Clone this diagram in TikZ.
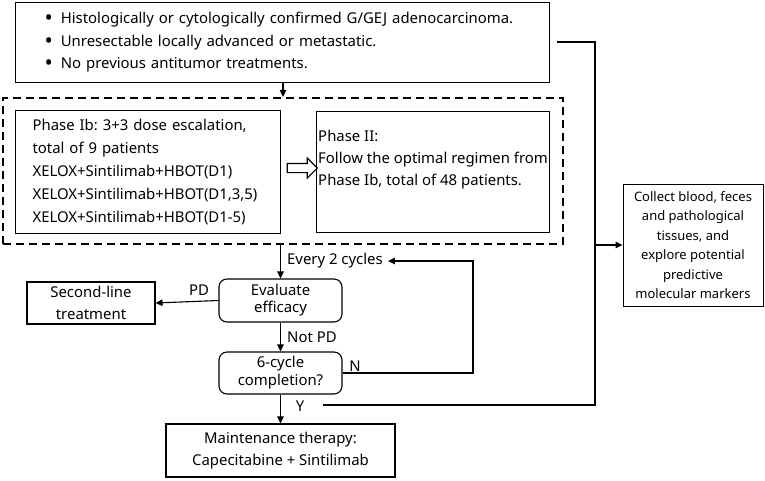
\documentclass[tikz,border=0pt]{standalone}
\usepackage{fontspec}
\setmainfont{Noto Sans}
\usetikzlibrary{arrows.meta,shapes.arrows,positioning}
\frenchspacing

\newcommand{\critem}[1]{\raisebox{-1.6pt}{\fontsize{22}{22}\selectfont\textbullet}\hspace{8pt}#1}

\tikzset{
  box/.style={draw, line width=1.1pt, align=center, inner sep=0pt,
    font=\fontsize{14.9}{22}\selectfont},
  roundbox/.style={box, rounded corners=8pt},
  frame/.style={draw, line width=2.2pt, dash pattern=on 8pt off 5pt},
  arr/.style={line width=1.1pt, -{Triangle[length=7pt,width=6.5pt]}},
  link/.style={line width=1.1pt},
  lbl/.style={inner sep=0pt, font=\fontsize{14.9}{17}\selectfont},
}

\begin{document}
\begin{tikzpicture}[x=1pt,y=-1pt]
  \useasboundingbox (0,0) rectangle (765,480);

  \node[box, anchor=north west, minimum width=534pt, minimum height=80pt,
    text width=476pt, align=left, inner xsep=29pt,
    font=\fontsize{14.9}{22.5}\selectfont] (crit) at (15,2)
    {\critem{Histologically or cytologically confirmed G/GEJ adenocarcinoma.}\\
     \critem{Unresectable locally advanced or metastatic.}\\
     \critem{No previous antitumor treatments.}};

  \node[frame, minimum width=560pt, minimum height=146pt] (trial) at (283,171) {};
  \node[box, anchor=north west, minimum width=265pt, minimum height=123pt,
    text width=231pt, inner xsep=17pt, align=left,
    font=\fontsize{14.9}{23}\selectfont] (phaseIb) at (15,110)
    {Phase Ib: 3+3 dose escalation,\\
     total of 9 patients\\
     XELOX+Sintilimab+HBOT(D1)\\
     XELOX+Sintilimab+HBOT(D1,3,5)\\
     XELOX+Sintilimab+HBOT(D1-5)};
  \node[box, anchor=north west, minimum width=233pt, minimum height=121pt,
    align=left] (phaseII) at (316,111)
    {Phase II:\\
     Follow the optimal regimen from\\
     Phase Ib, total of 48 patients.\\[6pt]};
  \node[single arrow, draw, line width=1.1pt, minimum height=30pt,
    minimum width=19pt, single arrow head extend=5.5pt, inner sep=4pt]
    (nextph) at (300,168) {};

  \node[roundbox, minimum width=123pt, minimum height=43pt,
    font=\fontsize{14.9}{17}\selectfont] (eval) at (280.5,300.5)
    {Evaluate\\efficacy};
  \node[roundbox, minimum width=123pt, minimum height=42pt,
    font=\fontsize{14.9}{18}\selectfont] (cyc) at (280.5,373)
    {6-cycle\\completion?};
  \node[box, minimum width=128pt, minimum height=42pt] (second) at (91,303)
    {Second-line\\treatment};
  \node[box, minimum width=229pt, minimum height=53pt] (maint) at (280.5,450.5)
    {Maintenance therapy:\\Capecitabine + Sintilimab};
  \node[box, minimum width=140pt, minimum height=122pt, line width=0.9pt,
    font=\fontsize{13}{19.5}\selectfont] (collect) at (693,245)
    {Collect blood, feces\\and pathological\\tissues, and\\explore potential\\predictive\\molecular markers};

  \node[lbl, anchor=west] (every) at (287,261) {Every 2 cycles};
  \node[lbl] (pd) at (199,290) {PD};
  \node[lbl, anchor=west] (notpd) at (287,337) {Not PD};
  \node[lbl] (n) at (355,366) {N};
  \node[lbl] (y) at (300,406) {Y};

  \coordinate (loop) at (473,261);
  \coordinate (critout) at (557,42);
  \coordinate (railtop) at (595,42);
  \coordinate (railbot) at (595,405);
  \coordinate (yout) at (323,405);

  \draw[arr] (trial.north |- crit.south) -- (trial.north);
  \draw[arr] (eval.north |- trial.south) -- (eval.north);
  \draw[arr] (eval.west) -- (second.east);
  \draw[arr] (eval.south) -- (cyc.north);
  \draw[arr] (cyc.south) -- (maint.north);
  \draw[arr] (cyc.east) -| (loop) -- ([xshift=5pt]every.east);
  \draw[link] (critout) -- (railtop) -- (railbot) -- (yout);
  \draw[arr] (railtop |- collect.west) -- (collect.west);
\end{tikzpicture}
\end{document}
